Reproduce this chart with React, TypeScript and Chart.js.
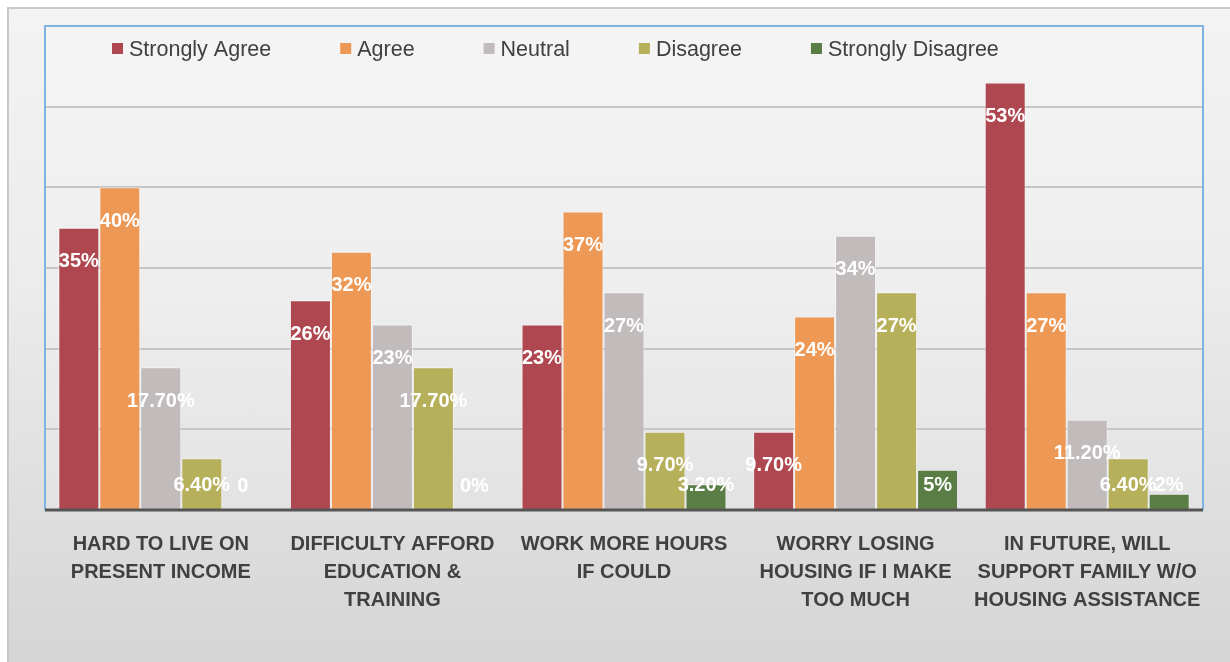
import React, { useEffect, useRef } from "react";
import { Chart, registerables } from "chart.js";

Chart.register(...registerables);

const categories: string[][] = [
  ["HARD TO LIVE ON", "PRESENT INCOME"],
  ["DIFFICULTY AFFORD", "EDUCATION &", "TRAINING"],
  ["WORK MORE HOURS", "IF COULD"],
  ["WORRY LOSING", "HOUSING IF I MAKE", "TOO MUCH"],
  ["IN FUTURE, WILL", "SUPPORT FAMILY W/O", "HOUSING ASSISTANCE"],
];

const seriesNames = ["Strongly Agree", "Agree", "Neutral", "Disagree", "Strongly Disagree"];
const seriesColors = ["#af4750", "#ed9855", "#c1bbbb", "#b7b05a", "#5a7d46"];

const stronglyAgree = [35, 26, 23, 9.7, 53];
const agree = [40, 32, 37, 24, 27];
const neutral = [17.7, 23, 27, 34, 11.2];
const disagree = [6.4, 17.7, 9.7, 27, 6.4];
const stronglyDisagree = [0, 0, 3.2, 5, 2];

const stronglyAgreeLabels = ["35%", "26%", "23%", "9.70%", "53%"];
const agreeLabels = ["40%", "32%", "37%", "24%", "27%"];
const neutralLabels = ["17.70%", "23%", "27%", "34%", "11.20%"];
const disagreeLabels = ["6.40%", "17.70%", "9.70%", "27%", "6.40%"];
const stronglyDisagreeLabels = ["0", "0%", "3.20%", "5%", "2%"];

const yTicks = [0, 10, 20, 30, 40, 50, 60];

const FONT = "'Liberation Sans', Arial, sans-serif";

export default function App() {
  const ref = useRef<HTMLCanvasElement | null>(null);

  useEffect(() => {
    if (!ref.current) return;
    const values = [stronglyAgree, agree, neutral, disagree, stronglyDisagree];
    const labels = [stronglyAgreeLabels, agreeLabels, neutralLabels, disagreeLabels, stronglyDisagreeLabels];

    const framePlugin = {
      id: "framePlugin",
      beforeDraw(chart: any) {
        const { ctx, chartArea } = chart;
        ctx.save();
        ctx.fillStyle = "rgba(255,255,255,0.15)";
        ctx.fillRect(chartArea.left, chartArea.top, chartArea.right - chartArea.left, chartArea.bottom - chartArea.top);
        ctx.restore();
      },
      afterDatasetsDraw(chart: any) {
        const { ctx, chartArea } = chart;
        ctx.save();
        // data labels
        ctx.font = `bold 20px ${FONT}`;
        ctx.fillStyle = "#ffffff";
        ctx.textAlign = "center";
        ctx.textBaseline = "middle";
        chart.data.datasets.forEach((ds: any, di: number) => {
          const meta = chart.getDatasetMeta(di);
          meta.data.forEach((el: any, i: number) => {
            const y = Math.min(el.y + 34, el.base - 24);
            ctx.fillText(labels[di][i], el.x, y);
          });
        });
        // border of plot area
        ctx.strokeStyle = "#7fb2e0";
        ctx.lineWidth = 2;
        ctx.beginPath();
        ctx.moveTo(chartArea.left, chartArea.bottom);
        ctx.lineTo(chartArea.left, chartArea.top);
        ctx.lineTo(chartArea.right, chartArea.top);
        ctx.lineTo(chartArea.right, chartArea.bottom);
        ctx.stroke();
        // base axis line
        ctx.strokeStyle = "#555555";
        ctx.lineWidth = 3;
        ctx.beginPath();
        ctx.moveTo(chartArea.left, chartArea.bottom);
        ctx.lineTo(chartArea.right, chartArea.bottom);
        ctx.stroke();
        // legend
        ctx.font = `21.5px ${FONT}`;
        ctx.textAlign = "left";
        ctx.textBaseline = "middle";
        let x = chartArea.left + 67;
        const ly = chartArea.top + 24;
        seriesNames.forEach((name, i) => {
          ctx.fillStyle = seriesColors[i];
          ctx.fillRect(x, ly - 7, 11, 11);
          ctx.fillStyle = "#404040";
          ctx.fillText(name, x + 17, ly);
          x += 17 + ctx.measureText(name).width + 69;
        });
        ctx.restore();
      },
    };

    const chart = new Chart(ref.current, {
      type: "bar",
      data: {
        labels: categories,
        datasets: values.map((v, i) => ({
          label: seriesNames[i],
          data: v,
          backgroundColor: seriesColors[i],
          borderColor: "rgba(255,255,255,0.45)",
          borderWidth: 1,
          barPercentage: 1,
          categoryPercentage: 0.885,
        })),
      },
      options: {
        responsive: false,
        animation: false,
        layout: { padding: { left: 45, right: 27, top: 26, bottom: 0 } },
        plugins: {
          legend: { display: false },
          tooltip: { enabled: false },
        },
        scales: {
          x: {
            grid: { display: false, drawTicks: false },
            border: { display: false },
            ticks: {
              color: "#404040",
              font: { family: FONT, size: 20, weight: "bold", lineHeight: 1.4 },
              padding: 20,
              maxRotation: 0,
              minRotation: 0,
              autoSkip: false,
            },
            afterFit(scale: any) {
              scale.height = 152;
            },
          },
          y: {
            min: yTicks[0],
            max: yTicks[yTicks.length - 1],
            afterBuildTicks(scale: any) {
              scale.ticks = yTicks.map((v) => ({ value: v }));
            },
            grid: { color: "#c6c6c6", lineWidth: 2, drawTicks: false },
            border: { display: false },
            ticks: { display: false },
            afterFit(scale: any) {
              scale.width = 0;
            },
          },
        },
      },
      plugins: [framePlugin],
    });
    return () => chart.destroy();
  }, []);

  return (
    <div style={{ position: "absolute", left: 0, top: 0, width: 1230, height: 662, background: "#ffffff", overflow: "hidden" }}>
      <div
        style={{
          position: "absolute",
          left: 7,
          top: 7,
          width: 1240,
          height: 670,
          borderLeft: "2px solid #c9c9c9",
          borderTop: "2px solid #c9c9c9",
          background: "linear-gradient(180deg, #f3f3f3 0%, #ececec 40%, #d4d4d4 100%)",
        }}
      />
      <canvas ref={ref} width={1230} height={662} style={{ position: "absolute", left: 0, top: 0 }} />
    </div>
  );
}
